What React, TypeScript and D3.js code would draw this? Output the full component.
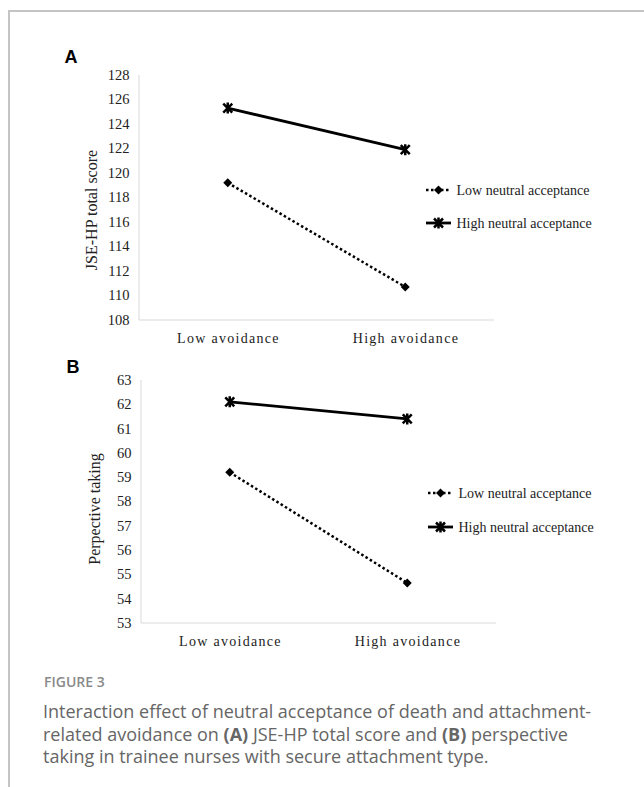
import React, { useEffect, useRef } from "react";
import * as d3 from "d3";

// categories on x
const categories = ["Low avoidance", "High avoidance"];
const seriesNames = ["Low neutral acceptance", "High neutral acceptance"];

// panel A: JSE-HP total score
const aTicks = [108, 110, 112, 114, 116, 118, 120, 122, 124, 126, 128];
const aLow = [119.2, 110.7];
const aHigh = [125.3, 121.9];

// panel B: perspective taking
const bTicks = [53, 54, 55, 56, 57, 58, 59, 60, 61, 62, 63];
const bLow = [59.2, 54.65];
const bHigh = [62.1, 61.4];

const captionTitle = "FIGURE 3";

const SERIF = "'Liberation Serif', 'Times New Roman', serif";
const SANS = "'Liberation Sans', Arial, sans-serif";

function diamond(g, x, y) {
  g.append("path")
    .attr("d", d3.symbol(d3.symbolDiamond2, 52)())
    .attr("transform", `translate(${x},${y})`)
    .attr("fill", "#000");
}

function star(g, x, y) {
  const s = 4.5;
  g.append("path")
    .attr(
      "d",
      `M${x - s},${y - s}L${x + s},${y + s}M${x - s},${y + s}L${x + s},${y - s}M${x},${y - s - 1}L${x},${y + s + 1}`
    )
    .attr("stroke", "#000")
    .attr("stroke-width", 2.5)
    .attr("fill", "none");
}

function drawPanel(svg, opt) {
  const { left, right, top, bottom, ticks, low, high, title, letter, letterY, titleX, titleY, legendY } = opt;
  const g = svg.append("g");

  const x = d3.scaleBand().domain(categories).range([left, right]);
  const y = d3
    .scaleLinear()
    .domain([d3.min(ticks), d3.max(ticks)])
    .range([bottom, top]);
  const cx = (c) => x(c) + x.bandwidth() / 2;

  // axes lines
  g.append("line")
    .attr("x1", left).attr("x2", left)
    .attr("y1", top).attr("y2", bottom)
    .attr("stroke", "#d9d9d9").attr("stroke-width", 1);
  g.append("line")
    .attr("x1", left).attr("x2", right)
    .attr("y1", bottom).attr("y2", bottom)
    .attr("stroke", "#d9d9d9").attr("stroke-width", 1);

  // tick labels
  g.selectAll(".yt")
    .data(ticks)
    .enter()
    .append("text")
    .attr("x", left - 9.5)
    .attr("y", (d) => y(d))
    .attr("dy", "0.34em")
    .attr("text-anchor", "end")
    .attr("font-family", SERIF)
    .attr("font-size", 14.5)
    .attr("fill", "#222")
    .text((d) => d);

  g.selectAll(".xt")
    .data(categories)
    .enter()
    .append("text")
    .attr("x", (d) => cx(d) + 0.7)
    .attr("y", bottom + 23)
    .attr("text-anchor", "middle")
    .attr("font-family", SERIF)
    .attr("font-size", 14)
    .attr("letter-spacing", 1.3)
    .attr("fill", "#222")
    .text((d) => d);

  // y title
  g.append("text")
    .attr("transform", `translate(${titleX},${titleY}) rotate(-90)`)
    .attr("text-anchor", "middle")
    .attr("dy", "0.35em")
    .attr("font-family", SERIF)
    .attr("font-size", 16)
    .attr("fill", "#222")
    .text(title);

  // panel letter
  g.append("text")
    .attr("x", left - 74.5)
    .attr("y", letterY)
    .attr("font-family", SANS)
    .attr("font-weight", "bold")
    .attr("font-size", 18)
    .attr("fill", "#000")
    .text(letter);

  const line = d3
    .line()
    .x((d, i) => cx(categories[i]))
    .y((d) => y(d));

  g.append("path")
    .datum(low)
    .attr("d", line)
    .attr("fill", "none")
    .attr("stroke", "#000")
    .attr("stroke-width", 2.5)
    .attr("stroke-dasharray", "2.5 2.5");

  g.append("path")
    .datum(high)
    .attr("d", line)
    .attr("fill", "none")
    .attr("stroke", "#000")
    .attr("stroke-width", 2.8);

  low.forEach((v, i) => diamond(g, cx(categories[i]), y(v)));
  high.forEach((v, i) => star(g, cx(categories[i]), y(v)));

  // legend
  const lx0 = right - 68;
  const lx1 = right - 43;
  [low, high].forEach((_, k) => {
    const ly = legendY[k];
    const lg = g.append("g");
    lg.append("line")
      .attr("x1", lx0).attr("x2", lx1)
      .attr("y1", ly).attr("y2", ly)
      .attr("stroke", "#000")
      .attr("stroke-width", k === 0 ? 2.5 : 2.8)
      .attr("stroke-dasharray", k === 0 ? "2.5 2.5" : null);
    if (k === 0) diamond(lg, (lx0 + lx1) / 2, ly);
    else star(lg, (lx0 + lx1) / 2, ly);
    lg.append("text")
      .attr("x", lx1 + 5.5)
      .attr("y", ly)
      .attr("dy", "0.33em")
      .attr("font-family", SERIF)
      .attr("font-size", 14)
      .attr("fill", "#222")
      .text(seriesNames[k]);
  });
}

export default function App() {
  const ref = useRef(null);

  useEffect(() => {
    const svg = d3.select(ref.current);
    svg.selectAll("*").remove();

    // frame
    svg.append("line")
      .attr("x1", 8).attr("x2", 644).attr("y1", 11).attr("y2", 11)
      .attr("stroke", "#c4c4c4").attr("stroke-width", 2);
    svg.append("line")
      .attr("x1", 9).attr("x2", 9).attr("y1", 10).attr("y2", 787)
      .attr("stroke", "#c4c4c4").attr("stroke-width", 2);

    drawPanel(svg, {
      left: 139, right: 494, top: 75, bottom: 320,
      ticks: aTicks, low: aLow, high: aHigh,
      title: "JSE-HP total score", letter: "A", letterY: 63,
      titleX: 91, titleY: 210, legendY: [190, 223],
    });

    drawPanel(svg, {
      left: 141, right: 496, top: 380, bottom: 623,
      ticks: bTicks, low: bLow, high: bHigh,
      title: "Perpective taking", letter: "B", letterY: 373,
      titleX: 94, titleY: 509, legendY: [493, 527],
    });

    // caption
    svg.append("text")
      .attr("x", 44).attr("y", 687)
      .attr("font-family", "'Open Sans', sans-serif")
      .attr("font-weight", 600)
      .attr("font-size", 14)
      .attr("fill", "#8a8a8a")
      .text(captionTitle);

    const cap = svg.append("text")
      .attr("font-family", "'Open Sans', sans-serif")
      .attr("font-size", 18)
      .attr("fill", "#666");
    const lines = [
      [["Interaction effect of neutral acceptance of death and attachment-", false]],
      [
        ["related avoidance on ", false],
        ["(A)", true],
        [" JSE-HP total score and ", false],
        ["(B)", true],
        [" perspective", false],
      ],
      [["taking in trainee nurses with secure attachment type.", false]],
    ];
    lines.forEach((parts, i) => {
      parts.forEach(([t, b], j) => {
        const ts = cap.append("tspan").text(t).attr("font-weight", b ? 700 : 400);
        if (j === 0) ts.attr("x", 43).attr("y", 718 + i * 22.5);
      });
    });
  }, []);

  return (
    <svg
      ref={ref}
      width={644}
      height={787}
      style={{ position: "absolute", left: 0, top: 0, background: "#fff" }}
    />
  );
}
